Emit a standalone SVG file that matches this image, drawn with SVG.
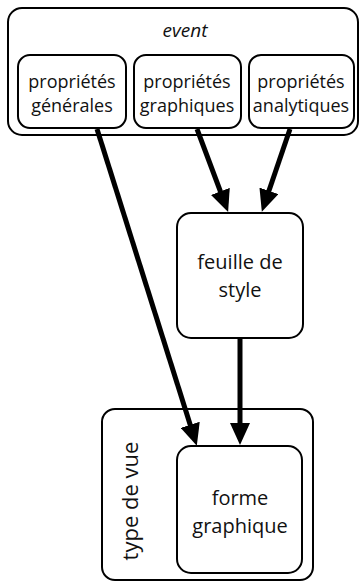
<svg xmlns="http://www.w3.org/2000/svg" width="363" height="583" viewBox="0 0 363 583">
<style>
.box{fill:#fff;stroke:#000;stroke-width:2}
.t{font-family:"Open Sans","Liberation Sans",sans-serif;fill:#111;text-anchor:middle}
.s{font-size:18px}
.m{font-size:20px}
.edge{stroke:#000;stroke-width:5;fill:none;marker-end:url(#ah)}
</style>
<defs>
<marker id="ah" markerUnits="userSpaceOnUse" markerWidth="22" markerHeight="20" refX="6" refY="10" orient="auto">
<path d="M0,0 L22,10 L0,20 Z" fill="#000"/>
</marker>
</defs>
<rect width="363" height="583" fill="#fff"/>
<g id="event">
<rect class="box" x="8" y="8" width="350" height="127" rx="14"/>
<text class="t" x="185" y="37" font-size="19" font-style="italic">event</text>
</g>
<g id="type-de-vue">
<rect class="box" x="102" y="409" width="211" height="171" rx="13"/>
<text class="t" transform="translate(138,501) rotate(-90)" font-size="22">type de vue</text>
</g>
<g id="proprietes-generales">
<rect class="box" x="18" y="55" width="108" height="73" rx="12"/>
<text class="t s" x="72" y="88">propriétés</text>
<text class="t s" x="72" y="112">générales</text>
</g>
<g id="proprietes-graphiques">
<rect class="box" x="134" y="55" width="107" height="73" rx="12"/>
<text class="t s" x="187" y="88">propriétés</text>
<text class="t s" x="187" y="112">graphiques</text>
</g>
<g id="proprietes-analytiques">
<rect class="box" x="249" y="55" width="105" height="73" rx="12"/>
<text class="t s" x="301" y="88">propriétés</text>
<text class="t s" x="301" y="112">analytiques</text>
</g>
<g id="feuille-de-style">
<rect class="box" x="177" y="213" width="126" height="125" rx="14"/>
<text class="t m" x="240" y="269">feuille de</text>
<text class="t m" x="240" y="297">style</text>
</g>
<g id="forme-graphique">
<rect class="box" x="177" y="446" width="125" height="127" rx="14"/>
<text class="t m" x="240" y="505">forme</text>
<text class="t m" x="240" y="533">graphique</text>
</g>
<g id="connectors">
<line class="edge" x1="197" y1="129" x2="222.5" y2="197"/>
<line class="edge" x1="290" y1="129" x2="267" y2="196.5"/>
<line class="edge" x1="97" y1="129" x2="192" y2="430.5"/>
<line class="edge" x1="240" y1="339" x2="240" y2="429"/>
</g>
</svg>
